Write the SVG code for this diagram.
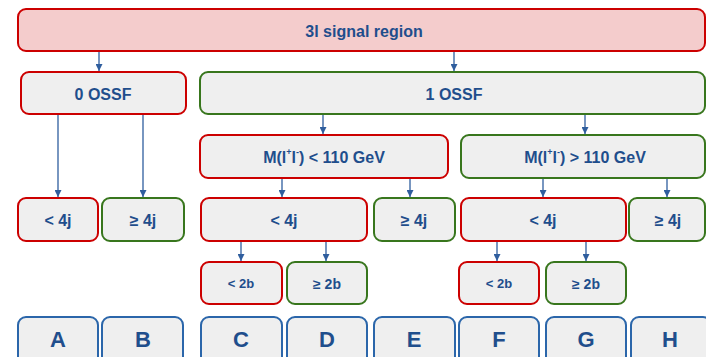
<svg xmlns="http://www.w3.org/2000/svg" width="706" height="357" viewBox="0 0 706 357">
<style>
rect{stroke-width:2}
.r{fill:#efefef;stroke:#cc0000}
.g{fill:#efefef;stroke:#38761d}
.b{fill:#efefef;stroke:#2b66aa}
.top{fill:#f4cccc;stroke:#cc0000}
text{font-family:"Liberation Sans",Arial,sans-serif;font-weight:bold;fill:#1f4e8c;text-anchor:middle;dominant-baseline:central}
.t16{font-size:16px}
.t13{font-size:13px}
.t14{font-size:14px}
.big{font-size:22px}
.c line{stroke:#2f5e9e;stroke-width:1.3}
</style>
<defs>
<marker id="ah" viewBox="0 0 8 8" refX="8" refY="4" markerWidth="7" markerHeight="7" markerUnits="userSpaceOnUse" orient="auto">
<path d="M0,0 L8,4 L0,8 z" fill="#2f5e9e"/>
</marker>
</defs>
<g class="c">
<line x1="99" y1="51" x2="99" y2="71" marker-end="url(#ah)"/>
<line x1="454" y1="51" x2="454" y2="71" marker-end="url(#ah)"/>
<line x1="58" y1="114" x2="58" y2="197" marker-end="url(#ah)"/>
<line x1="143" y1="114" x2="143" y2="197" marker-end="url(#ah)"/>
<line x1="323" y1="114" x2="323" y2="134" marker-end="url(#ah)"/>
<line x1="585" y1="114" x2="585" y2="134" marker-end="url(#ah)"/>
<line x1="282" y1="178" x2="282" y2="197" marker-end="url(#ah)"/>
<line x1="410" y1="178" x2="410" y2="197" marker-end="url(#ah)"/>
<line x1="543" y1="178" x2="543" y2="197" marker-end="url(#ah)"/>
<line x1="667" y1="178" x2="667" y2="197" marker-end="url(#ah)"/>
<line x1="241" y1="241" x2="241" y2="261" marker-end="url(#ah)"/>
<line x1="326" y1="241" x2="326" y2="261" marker-end="url(#ah)"/>
<line x1="497" y1="241" x2="497" y2="261" marker-end="url(#ah)"/>
<line x1="586" y1="241" x2="586" y2="261" marker-end="url(#ah)"/>
</g>
<g id="signal"><rect class="top" x="18" y="9" width="687" height="42" rx="8"/><text class="t16" x="364" y="31">3l signal region</text></g>
<g id="ossf0"><rect class="r" x="21" y="72" width="165" height="42" rx="8"/><text class="t16" x="103" y="94">0 OSSF</text></g>
<g id="ossf1"><rect class="g" x="200" y="72" width="505" height="42" rx="8"/><text class="t16" x="454" y="94">1 OSSF</text></g>
<g id="mlow"><rect class="r" x="200" y="135" width="248" height="43" rx="8"/><text class="t16" x="324" y="157">M(l<tspan font-size="9" dy="-5">+</tspan><tspan dy="5">l</tspan><tspan font-size="9" dy="-5">-</tspan><tspan dy="5">) &lt; 110 GeV</tspan></text></g>
<g id="mhigh"><rect class="g" x="461" y="135" width="244" height="43" rx="8"/><text class="t16" x="585" y="157">M(l<tspan font-size="9" dy="-5">+</tspan><tspan dy="5">l</tspan><tspan font-size="9" dy="-5">-</tspan><tspan dy="5">) &gt; 110 GeV</tspan></text></g>
<g id="j0lt"><rect class="r" x="18" y="198" width="80" height="43" rx="8"/><text class="t16" x="58" y="220">&lt; 4j</text></g>
<g id="j0ge"><rect class="g" x="102" y="198" width="82" height="43" rx="8"/><text class="t16" x="143" y="220">≥ 4j</text></g>
<g id="j1lt"><rect class="r" x="201" y="198" width="166" height="43" rx="8"/><text class="t16" x="284" y="220">&lt; 4j</text></g>
<g id="j1ge"><rect class="g" x="374" y="198" width="81" height="43" rx="8"/><text class="t16" x="414" y="220">≥ 4j</text></g>
<g id="j2lt"><rect class="r" x="461" y="198" width="165" height="43" rx="8"/><text class="t16" x="543" y="220">&lt; 4j</text></g>
<g id="j2ge"><rect class="g" x="629" y="198" width="76" height="43" rx="8"/><text class="t16" x="668" y="220">≥ 4j</text></g>
<g id="b1lt"><rect class="r" x="201" y="262" width="81" height="42" rx="8"/><text class="t13" x="241" y="283">&lt; 2b</text></g>
<g id="b1ge"><rect class="g" x="287" y="262" width="80" height="42" rx="8"/><text class="t14" x="327" y="284">≥ 2b</text></g>
<g id="b2lt"><rect class="r" x="459" y="262" width="80" height="42" rx="8"/><text class="t13" x="499" y="283">&lt; 2b</text></g>
<g id="b2ge"><rect class="g" x="546" y="262" width="80" height="42" rx="8"/><text class="t14" x="586" y="284">≥ 2b</text></g>
<g id="A"><rect class="b" x="18" y="317" width="80" height="50" rx="8"/><text class="big" x="58" y="339">A</text></g>
<g id="B"><rect class="b" x="102" y="317" width="81" height="50" rx="8"/><text class="big" x="143" y="339">B</text></g>
<g id="C"><rect class="b" x="201" y="317" width="81" height="50" rx="8"/><text class="big" x="241" y="339">C</text></g>
<g id="D"><rect class="b" x="287" y="317" width="80" height="50" rx="8"/><text class="big" x="327" y="339">D</text></g>
<g id="E"><rect class="b" x="374" y="317" width="81" height="50" rx="8"/><text class="big" x="414" y="339">E</text></g>
<g id="F"><rect class="b" x="459" y="317" width="80" height="50" rx="8"/><text class="big" x="499" y="339">F</text></g>
<g id="G"><rect class="b" x="546" y="317" width="80" height="50" rx="8"/><text class="big" x="586" y="339">G</text></g>
<g id="H"><rect class="b" x="631" y="317" width="80" height="50" rx="8"/><text class="big" x="670" y="339">H</text></g>
</svg>
